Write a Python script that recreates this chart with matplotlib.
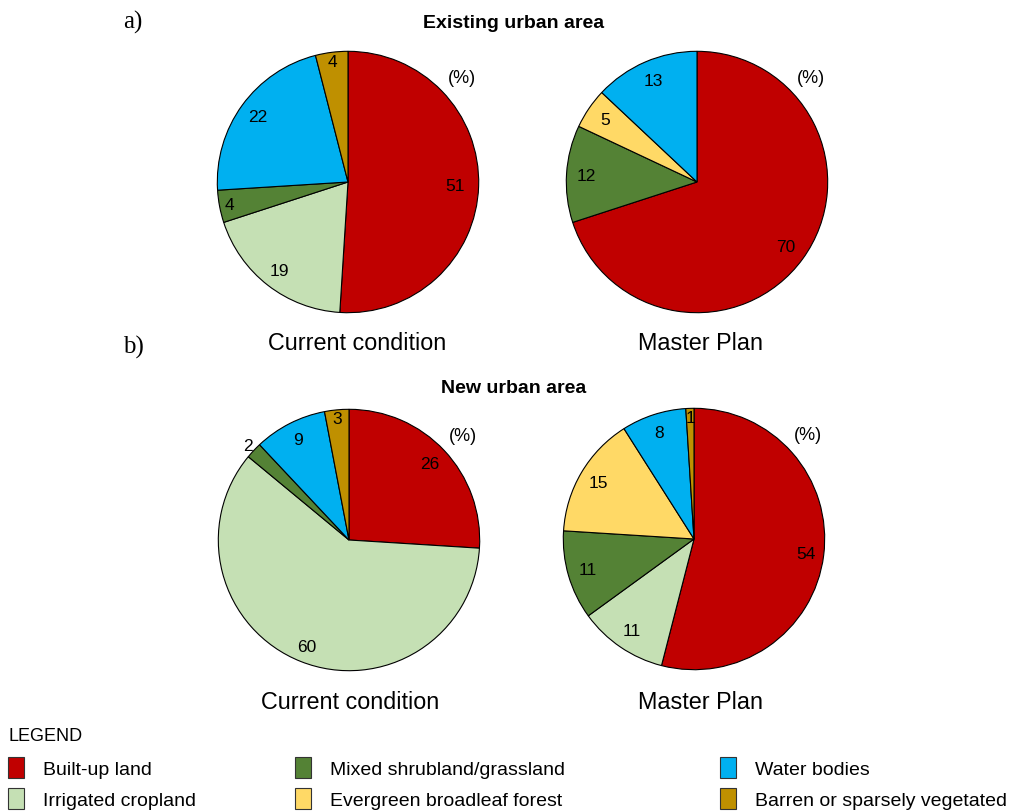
import numpy as np
import matplotlib.pyplot as plt
from matplotlib.patches import Patch

plt.rcParams['font.family'] = ['Liberation Sans', 'DejaVu Sans']

classes = ["Built-up land", "Irrigated cropland", "Mixed shrubland/grassland",
           "Evergreen broadleaf forest", "Water bodies", "Barren or sparsely vegetated"]
colors = ["#C00000", "#C5E0B4", "#548235", "#FFD966", "#00B0F0", "#BF9000"]

# shares in %, same order as classes
existing_current = [51, 19, 4, 0, 22, 4]
existing_master = [70, 0, 12, 5, 13, 0]
new_current = [26, 60, 2, 0, 9, 3]
new_master = [54, 11, 11, 15, 8, 1]

W, H = 1017, 812
fig = plt.figure(figsize=(W / 100, H / 100), dpi=100)


def pie_at(cx, cy, values, label_r, r=132):
    ax = fig.add_axes([(cx - r) / W, (H - cy - r) / H, 2 * r / W, 2 * r / H])
    vals = [v for v in values if v > 0]
    cols = [c for v, c in zip(values, colors) if v > 0]
    wedges, _ = ax.pie(vals, colors=cols, startangle=90, counterclock=False,
                       wedgeprops=dict(edgecolor="black", linewidth=0.8))
    for w, v, lr in zip(wedges, vals, label_r):
        ang = np.deg2rad((w.theta1 + w.theta2) / 2)
        ax.text(lr * np.cos(ang), lr * np.sin(ang), str(v), ha="center", va="center",
                fontsize=12.5)
    ax.text(0.87, 0.8, "(%)", ha="center", va="center", fontsize=13)
    ax.set_xlim(-1.01, 1.01)
    ax.set_ylim(-1.01, 1.01)
    ax.set_aspect("equal")
    ax.axis("off")
    return ax


pie_at(348, 183, existing_current, [0.82, 0.86, 0.92, 0.85, 0.93])
pie_at(697, 183, existing_master, [0.84, 0.85, 0.85, 0.85])
pie_at(349, 541, new_current, [0.85, 0.88, 1.06, 0.86, 0.93])
pie_at(694, 540, new_master, [0.86, 0.85, 0.85, 0.85, 0.86, 0.93])


def ft(x, y, s, **kw):
    fig.text(x / W, 1 - y / H, s, **kw)


ft(123, 22, "a)", ha="left", va="center", fontsize=18, family="Liberation Serif")
ft(514, 23, "Existing urban area", ha="center", va="center", fontsize=14, weight="bold")
ft(357, 344, "Current condition", ha="center", va="center", fontsize=16.8)
ft(700, 344, "Master Plan", ha="center", va="center", fontsize=16.8)
ft(123, 347, "b)", ha="left", va="center", fontsize=18, family="Liberation Serif")
ft(514, 389, "New urban area", ha="center", va="center", fontsize=14, weight="bold")
ft(350, 703, "Current condition", ha="center", va="center", fontsize=16.8)
ft(700, 703, "Master Plan", ha="center", va="center", fontsize=16.8)
ft(8, 737, "LEGEND", ha="left", va="center", fontsize=13)

handles = [Patch(facecolor=c, edgecolor="#333333", linewidth=0.8) for c in colors]
cols_x = [8, 295, 720]
pairs = [(0, 1), (2, 3), (4, 5)]
for x, (i, j) in zip(cols_x, pairs):
    fig.legend([handles[i], handles[j]], [classes[i], classes[j]],
               loc="upper left", bbox_to_anchor=(x / W, 1 - 758 / H),
               frameon=False, fontsize=14, handlelength=0.8, handleheight=1.3,
               handletextpad=1.0, labelspacing=0.5, borderpad=0, borderaxespad=0)

fig.savefig("out.png", dpi=100, facecolor="white")
